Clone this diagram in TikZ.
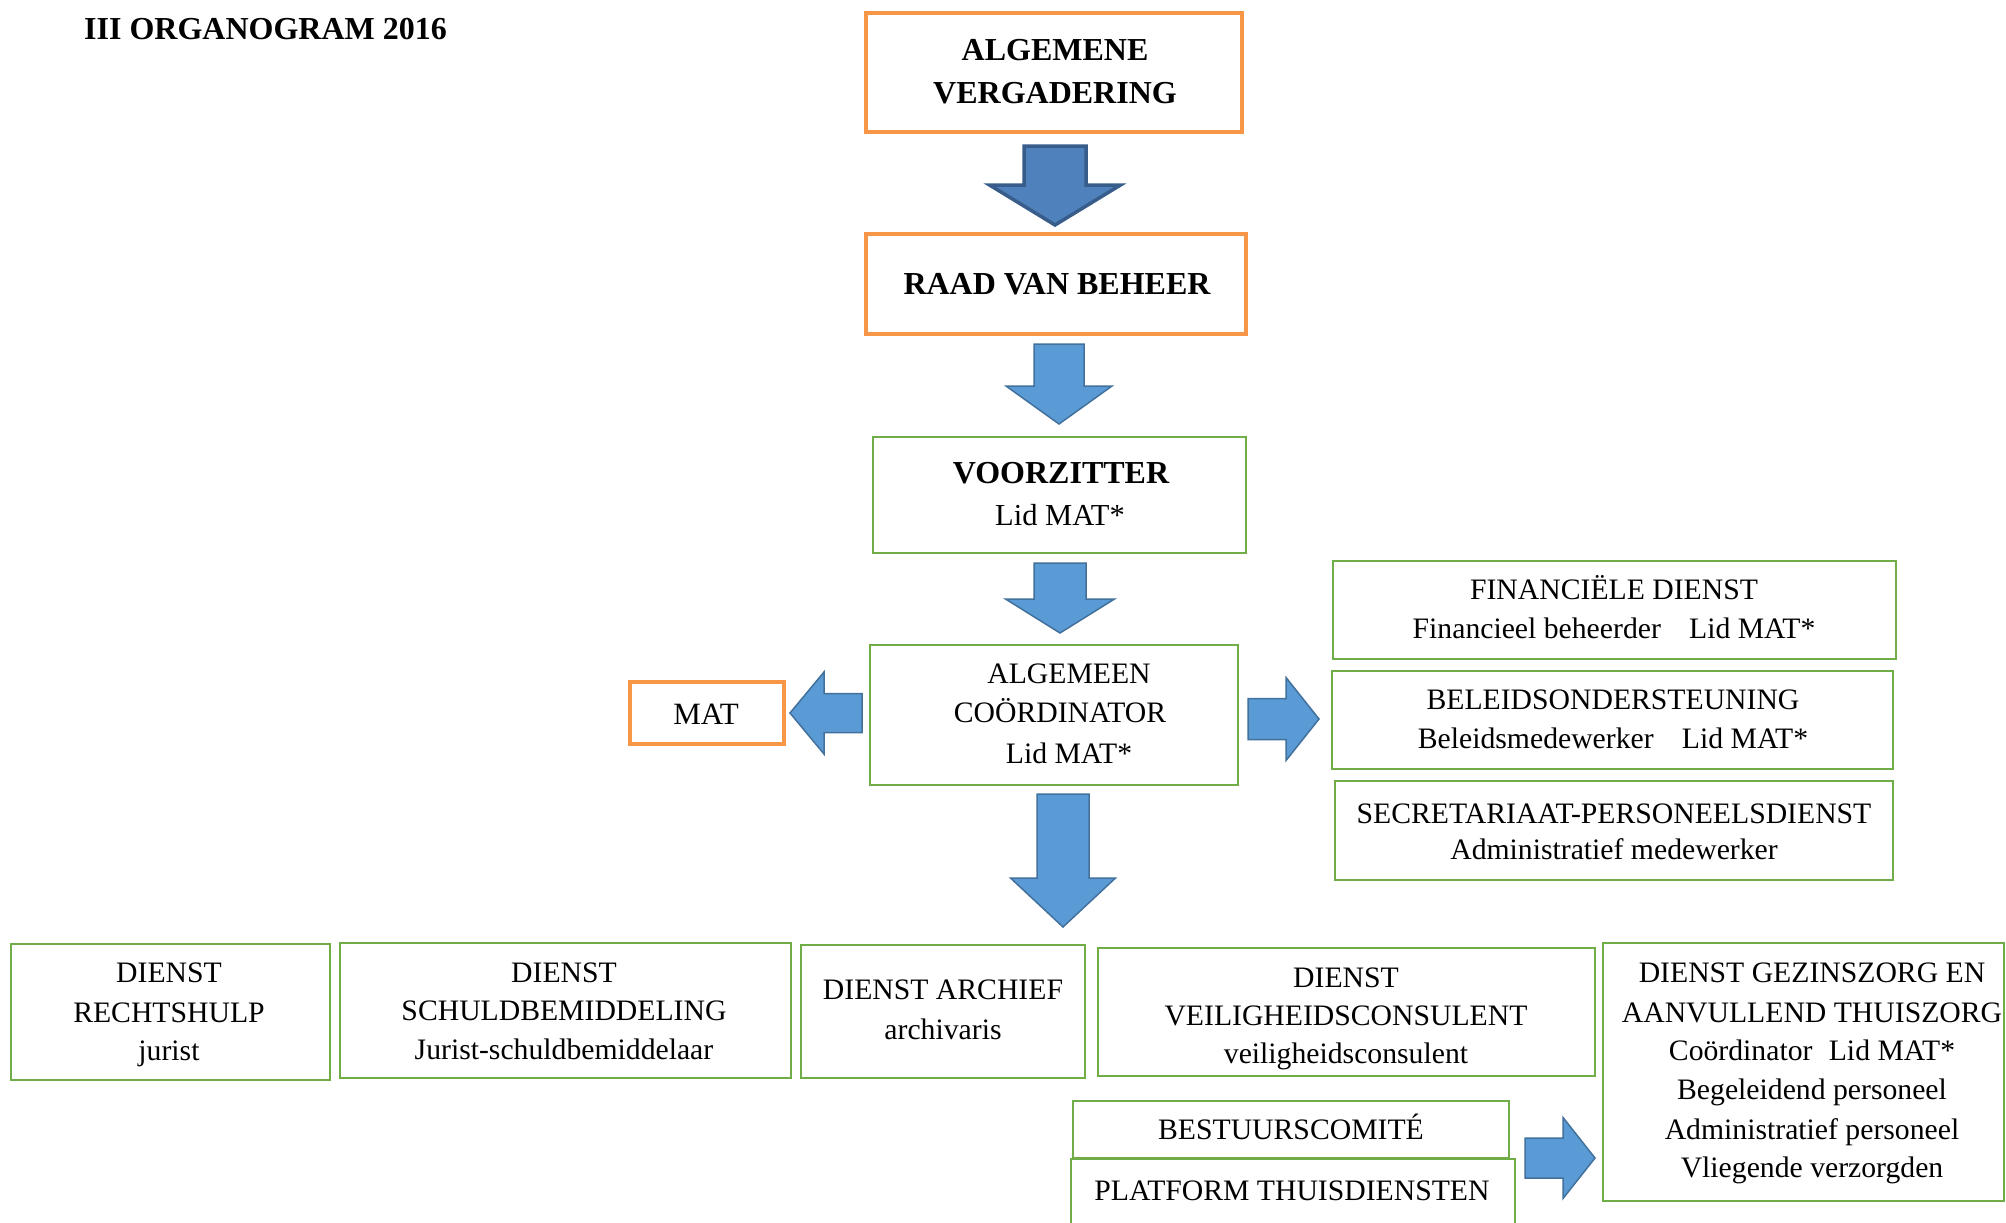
\documentclass[tikz,border=0pt]{standalone}
\usepackage{fontspec}
\setmainfont{Liberation Serif}
\definecolor{orng}{HTML}{F79646}
\definecolor{grn}{HTML}{70AD47}
\definecolor{bluA}{HTML}{4F81BD}
\definecolor{bluAl}{HTML}{385D8A}
\definecolor{bluB}{HTML}{5B9BD5}
\definecolor{bluBl}{HTML}{41719C}
\tikzset{
 obox/.style={draw=orng, line width=4pt, rectangle, inner sep=0pt, outer sep=0pt},
 gbox/.style={draw=grn, line width=2.5pt, rectangle, inner sep=0pt, outer sep=0pt},
 rt/.style={font=\fontsize{29.7}{35}\selectfont, anchor=base, inner sep=0pt},
 bt/.style={font=\fontsize{32}{38}\selectfont\bfseries, anchor=base, inner sep=0pt},
 arrA/.style={fill=bluA, draw=bluAl, line width=3.5pt, line join=miter},
 arrB/.style={fill=bluB, draw=bluBl, line width=1.5pt, line join=miter},
}
% style, cx, top, headstart, tip, shafthalf, headhalf
\newcommand\bdarrow[7]{\draw[#1] (#2-#6,#3) -- (#2+#6,#3) -- (#2+#6,#4) -- (#2+#7,#4) -- (#2,#5) -- (#2-#7,#4) -- (#2-#6,#4) -- cycle;}
% style, tail x, headbase x, tip x, cy, shafthalf, headhalf
\newcommand\bharrow[7]{\draw[#1] (#2,#5-#6) -- (#3,#5-#6) -- (#3,#5-#7) -- (#4,#5) -- (#3,#5+#7) -- (#3,#5+#6) -- (#2,#5+#6) -- cycle;}
\begin{document}
\begin{tikzpicture}[x=1pt,y=-1pt]
\useasboundingbox (0,0) rectangle (2006,1223);
\fill[white] (0,0) rectangle (2006,1223);
\clip (0,0) rectangle (2006,1223);

\node[bt, anchor=base west] (title) at (84,40) {III ORGANOGRAM 2016};

% boxes
\node[obox, minimum width=376pt, minimum height=119pt] (av) at (1054,72.5) {};
\node[obox, minimum width=380pt, minimum height=100pt] (rvb) at (1056,284) {};
\node[gbox, minimum width=373pt, minimum height=116pt] (vz) at (1059.5,495) {};
\node[gbox, minimum width=368pt, minimum height=140pt] (ac) at (1054,715) {};
\node[obox, minimum width=154pt, minimum height=62pt] (mat) at (707,713) {};
\node[gbox, minimum width=563pt, minimum height=98pt] (fin) at (1614.5,610) {};
\node[gbox, minimum width=561pt, minimum height=98pt] (bel) at (1612.5,720) {};
\node[gbox, minimum width=558pt, minimum height=99pt] (sec) at (1614,830.5) {};
\node[gbox, minimum width=319pt, minimum height=136pt] (rh) at (170.5,1012) {};
\node[gbox, minimum width=451pt, minimum height=135pt] (sb) at (565.5,1010.5) {};
\node[gbox, minimum width=284pt, minimum height=133pt] (ar) at (943,1011.5) {};
\node[gbox, minimum width=497pt, minimum height=128pt] (vc) at (1346.5,1012) {};
\node[gbox, minimum width=401pt, minimum height=258pt] (gz) at (1803.5,1072) {};
\node[gbox, minimum width=436pt, minimum height=57pt] (bc) at (1291,1129.5) {};
\node[gbox, minimum width=444pt, minimum height=101pt] (pt) at (1293,1209.5) {};

% texts
\node[bt] (av1) at (1055,61) {ALGEMENE};
\node[bt] (av2) at (1055,103) {VERGADERING};
\node[bt] (rvb1) at (1057,294) {RAAD VAN BEHEER};
\node[bt] (vz1) at (1061,483) {VOORZITTER};
\node[rt, font=\fontsize{30.5}{36}\selectfont] (vz2) at (1060,525) {Lid MAT*};
\node[rt] (ac1) at (1069,683) {ALGEMEEN};
\node[rt] (ac2) at (1060,722) {COÖRDINATOR};
\node[rt] (ac3) at (1069,763) {Lid MAT*};
\node[rt, font=\fontsize{31}{36}\selectfont] (mat1) at (706,724) {MAT};
\node[rt] (fin1) at (1614,599) {FINANCIËLE DIENST};
\node[rt] (fin2) at (1614,638) {Financieel beheerder\hspace{0.7em} Lid MAT*};
\node[rt] (bel1) at (1613,709) {BELEIDSONDERSTEUNING};
\node[rt] (bel2) at (1613,748) {Beleidsmedewerker\hspace{0.7em} Lid MAT*};
\node[rt] (sec1) at (1614,823) {SECRETARIAAT-PERSONEELSDIENST};
\node[rt] (sec2) at (1614,859) {Administratief medewerker};
\node[rt] (rh1) at (169,982) {DIENST};
\node[rt] (rh2) at (169,1022) {RECHTSHULP};
\node[rt] (rh3) at (169,1060) {jurist};
\node[rt] (sb1) at (564,982) {DIENST};
\node[rt] (sb2) at (564,1020) {SCHULDBEMIDDELING};
\node[rt] (sb3) at (564,1059) {Jurist-schuldbemiddelaar};
\node[rt] (ar1) at (943,999) {DIENST ARCHIEF};
\node[rt] (ar2) at (943,1039) {archivaris};
\node[rt] (vc1) at (1346,987) {DIENST};
\node[rt] (vc2) at (1346,1025) {VEILIGHEIDSCONSULENT};
\node[rt] (vc3) at (1346,1063) {veiligheidsconsulent};
\node[rt] (gz1) at (1812,982) {DIENST GEZINSZORG EN};
\node[rt] (gz2) at (1812,1022) {AANVULLEND THUISZORG};
\node[rt] (gz3) at (1812,1060) {Coördinator\hspace{0.3em} Lid MAT*};
\node[rt] (gz4) at (1812,1099) {Begeleidend personeel};
\node[rt] (gz5) at (1812,1139) {Administratief personeel};
\node[rt] (gz6) at (1812,1177) {Vliegende verzorgden};
\node[rt] (bc1) at (1291,1139) {BESTUURSCOMITÉ};
\node[rt] (pt1) at (1292,1200) {PLATFORM THUISDIENSTEN};

% block arrows
\bdarrow{arrA}{1055}{146}{185}{225}{31}{65.5}
\bdarrow{arrB}{1059}{344}{386}{424}{25}{53}
\bdarrow{arrB}{1060}{563}{599}{633}{26}{54.5}
\bdarrow{arrB}{1063}{794}{878}{927}{26}{52.5}
\bharrow{arrB}{862}{824}{790}{713}{19.5}{41}
\bharrow{arrB}{1248}{1286}{1319}{719}{20.5}{41.5}
\bharrow{arrB}{1525}{1563}{1595}{1158}{20}{40.5}
\end{tikzpicture}
\end{document}
